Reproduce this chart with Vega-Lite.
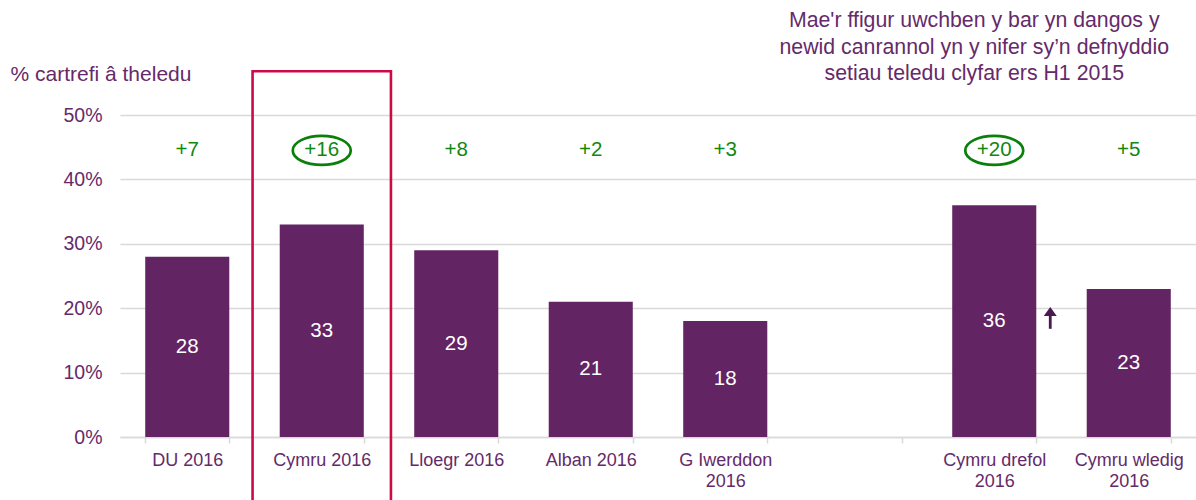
{
  "$schema": "https://vega.github.io/schema/vega-lite/v6.json",
  "width": 1076,
  "height": 322,
  "autosize": "none",
  "padding": {"left": 120, "top": 115, "right": 0, "bottom": 63},
  "background": "white",
  "config": {
    "view": {"stroke": null},
    "font": "Liberation Sans"
  },
  "datasets": {
    "bars": [
      {"cat": "DU 2016", "value": 28, "change": "+7", "circled": false},
      {"cat": "Cymru 2016", "value": 33, "change": "+16", "circled": true},
      {"cat": "Lloegr 2016", "value": 29, "change": "+8", "circled": false},
      {"cat": "Alban 2016", "value": 21, "change": "+2", "circled": false},
      {"cat": "G Iwerddon 2016", "value": 18, "change": "+3", "circled": false},
      {"cat": "Cymru drefol 2016", "value": 36, "change": "+20", "circled": true},
      {"cat": "Cymru wledig 2016", "value": 23, "change": "+5", "circled": false}
    ],
    "highlight": [{"cat": "Cymru 2016"}],
    "arrow": [{"cat": "Cymru drefol 2016"}],
    "note": [{"cat": "Cymru drefol 2016", "text": ["Mae'r ffigur uwchben y bar yn dangos y", "newid canrannol yn y nifer sy\u2019n defnyddio", "setiau teledu clyfar ers H1 2015"]}]
  },
  "encoding": {
    "x": {
      "field": "cat",
      "type": "nominal",
      "sort": null,
      "scale": {
        "domain": ["DU 2016", "Cymru 2016", "Lloegr 2016", "Alban 2016", "G Iwerddon 2016", " ", "Cymru drefol 2016", "Cymru wledig 2016"],
        "paddingInner": 0.375,
        "paddingOuter": 0.1875
      },
      "axis": {
        "title": null,
        "labelAngle": 0,
        "labelFontSize": 18,
        "labelColor": "#652a6a",
        "labelLineHeight": 21,
        "labelPadding": 8,
        "tickBand": "extent",
        "tickColor": "#d9d9d9",
        "tickSize": 6,
        "tickWidth": 1.5,
        "domainColor": "#d9d9d9",
        "domainWidth": 1.5,
        "labelExpr": "datum.value == 'G Iwerddon 2016' ? ['G Iwerddon', '2016'] : datum.value == 'Cymru drefol 2016' ? ['Cymru drefol', '2016'] : datum.value == 'Cymru wledig 2016' ? ['Cymru wledig', '2016'] : datum.label"
      }
    }
  },
  "layer": [
    {
      "data": {"name": "bars"},
      "mark": {"type": "bar", "color": "#632464"},
      "encoding": {
        "y": {
          "field": "value",
          "type": "quantitative",
          "scale": {"domain": [0, 50], "nice": false},
          "axis": {
            "title": "% cartrefi \u00e2 theledu",
            "titleAngle": 0,
            "titleAlign": "left",
            "titleBaseline": "alphabetic",
            "titleX": -110,
            "titleY": -35,
            "titleFontSize": 21,
            "titleFontWeight": "normal",
            "titleColor": "#652a6a",
            "values": [0, 10, 20, 30, 40, 50],
            "labelExpr": "datum.value + '%'",
            "labelFontSize": 19.5,
            "labelColor": "#652a6a",
            "labelPadding": 18,
            "ticks": false,
            "domain": false,
            "gridColor": "#d9d9d9",
            "gridWidth": 1.5
          }
        }
      }
    },
    {
      "data": {"name": "bars"},
      "transform": [{"calculate": "datum.value / 2", "as": "mid"}],
      "mark": {"type": "text", "color": "white", "fontSize": 20.5, "baseline": "middle"},
      "encoding": {
        "y": {"field": "mid", "type": "quantitative"},
        "text": {"field": "value", "type": "quantitative"}
      }
    },
    {
      "data": {"name": "bars"},
      "mark": {"type": "text", "color": "#118811", "fontSize": 20.5, "baseline": "middle"},
      "encoding": {
        "y": {"datum": 44.5},
        "text": {"field": "change", "type": "nominal"}
      }
    },
    {
      "data": {"name": "bars"},
      "transform": [{"filter": "datum.circled"}],
      "mark": {
        "type": "point",
        "shape": "M -1 0 A 1 0.5 0 1 1 1 0 A 1 0.5 0 1 1 -1 0 Z",
        "size": 3364,
        "filled": false,
        "color": "#0a800a",
        "strokeWidth": 2.7,
        "opacity": 1
      },
      "encoding": {
        "y": {"datum": 44.5}
      }
    },
    {
      "data": {"name": "highlight"},
      "mark": {
        "type": "bar",
        "filled": false,
        "stroke": "#cc0a48",
        "strokeWidth": 2.6,
        "width": {"band": 1.646},
        "clip": false
      },
      "encoding": {
        "y": {"datum": 56.8},
        "y2": {"datum": -15}
      }
    },
    {
      "data": {"name": "arrow"},
      "mark": {"type": "rule", "color": "#4a1a4e", "strokeWidth": 2.8, "xOffset": 56},
      "encoding": {
        "y": {"datum": 18.8},
        "y2": {"datum": 16.8}
      }
    },
    {
      "data": {"name": "arrow"},
      "mark": {
        "type": "point",
        "shape": "M -1 0.69 L 0 -0.69 L 1 0.69 Z",
        "size": 169,
        "filled": true,
        "color": "#4a1a4e",
        "opacity": 1,
        "xOffset": 56
      },
      "encoding": {
        "y": {"datum": 19.5}
      }
    },
    {
      "data": {"name": "note"},
      "mark": {
        "type": "text",
        "color": "#652a6a",
        "fontSize": 21.3,
        "align": "center",
        "baseline": "alphabetic",
        "lineHeight": 26.5,
        "xOffset": -20
      },
      "encoding": {
        "y": {"datum": 63.66},
        "text": {"field": "text"}
      }
    }
  ]
}
